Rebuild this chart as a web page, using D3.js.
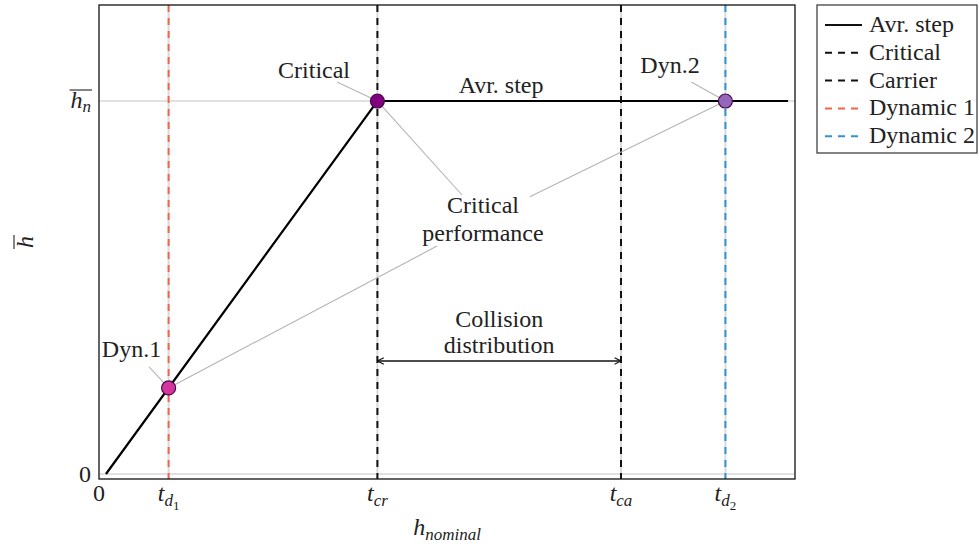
<!DOCTYPE html>
<html>
<head>
<meta charset="utf-8">
<script src="https://cdn.jsdelivr.net/npm/d3@7"></script>
<style>
  html, body { margin: 0; padding: 0; background: #fff; }
  text, tspan { font-family: 'Liberation Serif' !important; }
</style>
</head>
<body>
<script>
// Average step curve
const stepX = [0.1, 4, 9.9];
const stepY = [0, 1, 1];

// Highlighted points
const pointNames = ['Dyn.1', 'Critical', 'Dyn.2'];
const pointX = [1, 4, 9];
const pointY = [0.2308, 1, 1];
const pointFill = ['#d4369f', '#800080', '#9467bd'];

// Vertical reference lines
const vlineNames = ['Critical', 'Carrier', 'Dynamic 1', 'Dynamic 2'];
const vlineX = [4, 7.5, 1, 9];
const vlineColor = ['#111', '#111', '#f5634a', '#2f95cf'];

// Ticks
const xTickValues = [0, 1, 4, 7.5, 9];
const xTickLabels = [['0'], ['t', 'd', '1'], ['t', 'cr'], ['t', 'ca'], ['t', 'd', '2']];
const yTickValues = [0, 1];

// Annotation texts: label, x, baseline y (data units)
const noteText = ['Critical', 'Avr. step', 'Dyn.2', 'Dyn.1', 'Critical', 'performance', 'Collision', 'distribution'];
const noteX = [3.09, 5.777, 8.204, 0.467, 5.517, 5.517, 5.75, 5.75];
const noteY = [1.062, 1.021, 1.075, 0.314, 0.700, 0.625, 0.394, 0.324];

const cfg = {
  width: 979,
  height: 547,
  left: 99,
  right: 795,
  top: 5,
  bottom: 479,
  font: 24,
  gray: '#c4c4c4',
};

const svg = d3.select('body').append('svg')
  .attr('width', cfg.width)
  .attr('height', cfg.height);

const x = d3.scaleLinear().domain([0, 10]).range([cfg.left, cfg.right]);
const y = d3.scaleLinear().domain([-0.0134, 1.2574]).range([cfg.bottom, cfg.top]);

// arrow heads for the collision span
const defs = svg.append('defs');
defs.append('marker')
  .attr('id', 'arr')
  .attr('viewBox', '0 0 10 10')
  .attr('refX', 9).attr('refY', 5)
  .attr('markerWidth', 8).attr('markerHeight', 8)
  .attr('markerUnits', 'userSpaceOnUse')
  .attr('orient', 'auto-start-reverse')
  .append('path')
  .attr('d', 'M1,1 L9,5 L1,9')
  .attr('fill', 'none')
  .attr('stroke', '#111')
  .attr('stroke-width', 1.4);

// light grid at reference values
svg.selectAll('line.hgrid')
  .data(yTickValues).enter().append('line')
  .attr('class', 'hgrid')
  .attr('x1', cfg.left).attr('x2', cfg.right)
  .attr('y1', d => y(d)).attr('y2', d => y(d))
  .style('stroke', cfg.gray)
  .style('stroke-width', 1.2);

svg.selectAll('line.vgrid')
  .data(vlineX).enter().append('line')
  .attr('class', 'vgrid')
  .attr('x1', d => x(d)).attr('x2', d => x(d))
  .attr('y1', cfg.top).attr('y2', cfg.bottom)
  .style('stroke', '#dadada')
  .style('stroke-width', 2);

// dashed vertical lines
svg.selectAll('line.vline')
  .data(vlineX).enter().append('line')
  .attr('class', 'vline')
  .attr('x1', d => x(d)).attr('x2', d => x(d))
  .attr('y1', cfg.top).attr('y2', cfg.bottom)
  .style('stroke', (d, i) => vlineColor[i])
  .style('stroke-width', 2)
  .style('stroke-dasharray', '7,6');

// annotation leaders (gray)
const leaders = [
  // [fromX, fromY, toX, toY] in data units
  [pointX[1], pointY[1], 5.216, 0.748],
  [pointX[0], pointY[0], 4.856, 0.611],
  [pointX[2], pointY[2], 6.19, 0.743],
  [3.42, 1.051, pointX[1], pointY[1]],
  [8.51, 1.051, pointX[2], pointY[2]],
  [0.72, 0.287, pointX[0], pointY[0]],
];
svg.selectAll('line.leader')
  .data(leaders).enter().append('line')
  .attr('class', 'leader')
  .attr('x1', d => x(d[0])).attr('y1', d => y(d[1]))
  .attr('x2', d => x(d[2])).attr('y2', d => y(d[3]))
  .style('stroke', '#b4b4b4')
  .style('stroke-width', 1.1);

// average step line
const line = d3.line().x(d => x(d[0])).y(d => y(d[1]));
svg.append('path')
  .datum(stepX.map((v, i) => [v, stepY[i]]))
  .attr('d', line)
  .attr('fill', 'none')
  .style('stroke', '#000')
  .style('stroke-width', 2.2);

// collision arrow
svg.append('line')
  .attr('x1', x(vlineX[0])).attr('x2', x(vlineX[1]))
  .attr('y1', y(0.303)).attr('y2', y(0.303))
  .style('stroke', '#111')
  .style('stroke-width', 1.4)
  .attr('marker-start', 'url(#arr)')
  .attr('marker-end', 'url(#arr)');

// points
svg.selectAll('circle.pt')
  .data(pointX).enter().append('circle')
  .attr('class', 'pt')
  .attr('cx', d => x(d))
  .attr('cy', (d, i) => y(pointY[i]))
  .attr('r', 7)
  .style('fill', (d, i) => pointFill[i])
  .style('stroke', '#4a0a4a')
  .style('stroke-width', 1.2);

// frame
svg.append('rect')
  .attr('x', cfg.left).attr('y', cfg.top)
  .attr('width', cfg.right - cfg.left)
  .attr('height', cfg.bottom - cfg.top)
  .attr('fill', 'none')
  .style('stroke', '#111')
  .style('stroke-width', 1.3);

function txt(sel) {
  return sel.append('text')
    .attr('font-family', 'Liberation Serif')
    .style('font-family', d => "'Liberation Serif'")
    .style('font-size', `${cfg.font}px`)
    .style('fill', '#222');
}

svg.selectAll('text.note')
  .data(noteText).enter().append('text')
  .attr('class', 'note')
  .style('font-family', d => "'Liberation Serif'")
  .style('font-size', `${cfg.font}px`)
  .style('fill', '#222')
  .attr('x', (d, i) => x(noteX[i]))
  .attr('y', (d, i) => y(noteY[i]))
  .attr('text-anchor', 'middle')
  .text(d => d);

// x tick labels with subscripts
xTickValues.forEach((v, i) => {
  const parts = xTickLabels[i];
  const t = txt(svg)
    .attr('x', x(v))
    .attr('y', cfg.bottom + 22)
    .attr('text-anchor', 'middle');
  if (parts.length === 1) {
    t.text(parts[0]);
    return;
  }
  t.append('tspan').style('font-style', 'italic').text(parts[0]);
  t.append('tspan').style('font-style', 'italic').style('font-size', '17px')
    .attr('dy', 5).text(parts[1]);
  if (parts[2]) {
    t.append('tspan').style('font-size', '13px').attr('dy', 4).text(parts[2]);
  }
});

// y tick labels
txt(svg)
  .attr('x', cfg.left - 8)
  .attr('y', y(yTickValues[0]) + 8)
  .attr('text-anchor', 'end')
  .text('0');

const hn = txt(svg)
  .attr('x', cfg.left - 8)
  .attr('y', y(yTickValues[1]) + 7)
  .attr('text-anchor', 'end');
hn.append('tspan').style('font-style', 'italic').text('h');
hn.append('tspan').style('font-style', 'italic').style('font-size', '17px').attr('dy', 4).text('n');
{
  const b = hn.node().getBBox();
  svg.append('line')
    .attr('x1', b.x - 1).attr('x2', b.x + b.width + 1)
    .attr('y1', y(yTickValues[1]) - 11).attr('y2', y(yTickValues[1]) - 11)
    .style('stroke', '#222').style('stroke-width', 1.1);
}

// axis titles
const xl = txt(svg)
  .attr('x', (cfg.left + cfg.right) / 2)
  .attr('y', 535)
  .attr('text-anchor', 'middle');
xl.append('tspan').style('font-style', 'italic').text('h');
xl.append('tspan').style('font-style', 'italic').style('font-size', '17px').attr('dy', 5).text('nominal');

const yg = svg.append('g')
  .attr('transform', `translate(33, ${(cfg.top + cfg.bottom) / 2}) rotate(-90)`);
txt(yg)
  .attr('x', 0).attr('y', 0)
  .attr('text-anchor', 'middle')
  .style('font-style', 'italic')
  .text('h');
yg.append('line')
  .attr('x1', -7).attr('x2', 7)
  .attr('y1', -19).attr('y2', -19)
  .style('stroke', '#222').style('stroke-width', 1.1);

// legend
const legendNames = ['Avr. step'].concat(vlineNames);
const legendColor = ['#111'].concat(vlineColor);
const legend = svg.append('g').attr('transform', 'translate(817, 5)');
legend.append('rect')
  .attr('width', 160).attr('height', 148)
  .attr('fill', '#fff')
  .style('stroke', '#333').style('stroke-width', 1.2);
legendNames.forEach((name, i) => {
  const g = legend.append('g').attr('transform', `translate(0, ${20 + i * 27.8})`);
  g.append('line')
    .attr('x1', 8).attr('x2', 45)
    .style('stroke', legendColor[i])
    .style('stroke-width', 2)
    .style('stroke-dasharray', i === 0 ? null : '7,6');
  txt(g).attr('x', 52).attr('y', 7).text(name);
});
</script>
</body>
</html>
